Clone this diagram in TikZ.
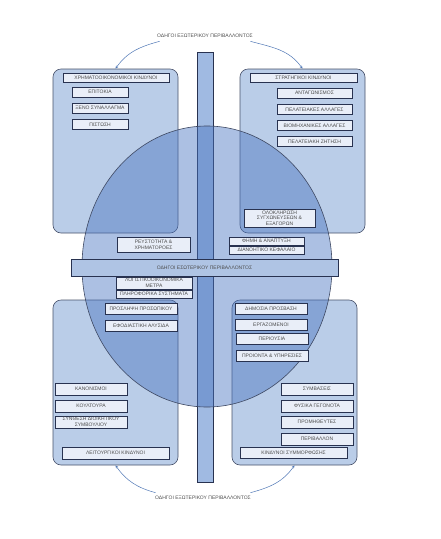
\documentclass[tikz,border=0pt]{standalone}
\usepackage{fontspec}
\setmainfont{Liberation Sans}
\usetikzlibrary{arrows.meta}

\definecolor{panelblue}{RGB}{186,205,232}
\definecolor{ovalblue}{RGB}{72,116,192}
\definecolor{barblue}{RGB}{160,186,226}
\definecolor{boxfill}{RGB}{233,238,248}
\definecolor{edgeblue}{RGB}{40,50,80}
\definecolor{arcblue}{RGB}{80,120,182}

\tikzset{
  panel/.style={draw=edgeblue!85, fill=panelblue, rounded corners=8pt, line width=0.6pt, inner sep=0pt},
  riskbox/.style={draw=edgeblue, fill=boxfill, line width=1pt, inner sep=0pt,
    minimum height=10, align=center, text=black!70, font=\fontsize{5}{5.6}\selectfont},
  drivertext/.style={text=black!70, font=\fontsize{5}{6}\selectfont},
  driver/.style={-{Stealth[length=3pt,width=2.6pt]}, draw=arcblue, line width=0.5pt},
}

\begin{document}
\begin{tikzpicture}[x=1pt,y=-1pt]
  \useasboundingbox (0,0) rectangle (440,539);
  % four risk quadrants
  \node[panel, minimum width=125, minimum height=164] (finq) at (115.5,151) {};
  \node[panel, minimum width=125, minimum height=164] (strq) at (302.5,151) {};
  \node[panel, minimum width=125, minimum height=165] (opq) at (115.5,382.5) {};
  \node[panel, minimum width=125, minimum height=165] (comq) at (294.5,382.5) {};
  % vertical bar and oval
  \draw[draw=edgeblue, fill=barblue, line width=0.6pt] (197,52) rectangle (213,482);
  \draw[draw=edgeblue!90, fill=ovalblue, fill opacity=0.45, line width=0.6pt]
    (207,266.5) ellipse [x radius=125, y radius=140.5];
  \node[draw=edgeblue, fill=panelblue!90!ovalblue, line width=1pt, minimum width=267, minimum height=17,
    text=black!70, font=\fontsize{5}{6}\selectfont] (intbar) at (204.5,268) {ΟΔΗΓΟΙ ΕΣΩΤΕΡΙΚΟΥ ΠΕΡΙΒΑΛΛΟΝΤΟΣ};

  % financial risks
  \node[riskbox, minimum width=106, minimum height=9] (fintitle) at (116,77.5) {ΧΡΗΜΑΤΟΟΙΚΟΝΟΜΙΚΟΙ ΚΙΝΔΥΝΟΙ};
  \node[riskbox, minimum width=56] (rates) at (100,92) {ΕΠΙΤΟΚΙΑ};
  \node[riskbox, minimum width=56] (forex) at (100,108) {ΞΕΝΟ ΣΥΝΑΛΛΑΓΜΑ};
  \node[riskbox, minimum width=56] (credit) at (100,124.5) {ΠΙΣΤΩΣΗ};
  \node[riskbox, minimum width=73, minimum height=15] (liquid) at (153.5,244.5) {ΡΕΥΣΤΟΤΗΤΑ \&\\ΧΡΗΜΑΤΟΡΟΕΣ};
  \node[riskbox, minimum width=76, minimum height=12] (accounts) at (154,283) {ΛΟΓΙΣΤΙΚΟΟΙΚΟΝΟΜΙΚΑ\\ΜΕΤΡΑ};
  \node[riskbox, minimum width=76, minimum height=8] (infosys) at (154,294) {ΠΛΗΡΟΦΟΡΙΚΑ ΣΥΣΤΗΜΑΤΑ};

  % strategic risks
  \node[riskbox, minimum width=107, minimum height=9] (strtitle) at (303.5,77.5) {ΣΤΡΑΤΗΓΙΚΟΙ ΚΙΝΔΥΝΟΙ};
  \node[riskbox, minimum width=75] (rivals) at (314.5,93) {ΑΝΤΑΓΩΝΙΣΜΟΣ};
  \node[riskbox, minimum width=75] (custchg) at (314.5,109.5) {ΠΕΛΑΤΕΙΑΚΕΣ ΑΛΛΑΓΕΣ};
  \node[riskbox, minimum width=75] (indchg) at (314.5,125.5) {ΒΙΟΜΗΧΑΝΙΚΕΣ ΑΛΛΑΓΕΣ};
  \node[riskbox, minimum width=75] (demand) at (314.5,141.5) {ΠΕΛΑΤΕΙΑΚΗ ΖΗΤΗΣΗ};
  \node[riskbox, minimum width=71, minimum height=18] (mergers) at (279.5,218) {ΟΛΟΚΛΗΡΩΣΗ\\ΣΥΓΧΩΝΕΥΣΕΩΝ \&\\ΕΞΑΓΟΡΩΝ};
  \node[riskbox, minimum width=75, minimum height=8] (growth) at (266.5,241) {ΦΗΜΗ \& ΑΝΑΠΤΥΞΗ};
  \node[riskbox, minimum width=75, minimum height=8] (ipcap) at (266.5,250) {ΔΙΑΝΟΗΤΙΚΟ ΚΕΦΑΛΑΙΟ};

  % operational risks
  \node[riskbox, minimum width=72, minimum height=11] (hiring) at (141,308.5) {ΠΡΟΣΛΗΨΗ ΠΡΟΣΩΠΙΚΟΥ};
  \node[riskbox, minimum width=72, minimum height=11] (supply) at (141,326) {ΕΦΟΔΙΑΣΤΙΚΗ ΑΛΥΣΙΔΑ};
  \node[riskbox, minimum width=72, minimum height=12] (rules) at (91,389) {ΚΑΝΟΝΙΣΜΟΙ};
  \node[riskbox, minimum width=72, minimum height=12] (culture) at (91,406) {ΚΟΥΛΤΟΥΡΑ};
  \node[riskbox, minimum width=72, minimum height=12] (board) at (91,422) {ΣΥΝΘΕΣΗ ΔΙΟΙΚΗΤΙΚΟΥ\\ΣΥΜΒΟΥΛΙΟΥ};
  \node[riskbox, minimum width=107, minimum height=12] (optitle) at (115.5,453) {ΛΕΙΤΟΥΡΓΙΚΟΙ ΚΙΝΔΥΝΟΙ};

  % compliance risks
  \node[riskbox, minimum width=72, minimum height=11] (access) at (271,308.5) {ΔΗΜΟΣΙΑ ΠΡΟΣΒΑΣΗ};
  \node[riskbox, minimum width=72, minimum height=11] (staff) at (271,325) {ΕΡΓΑΖΟΜΕΝΟΙ};
  \node[riskbox, minimum width=72, minimum height=11] (assets) at (272,339) {ΠΕΡΙΟΥΣΙΑ};
  \node[riskbox, minimum width=72, minimum height=11] (products) at (272,355.5) {ΠΡΟΙΟΝΤΑ \& ΥΠΗΡΕΣΙΕΣ};
  \node[riskbox, minimum width=72, minimum height=12] (contracts) at (317,389) {ΣΥΜΒΑΣΕΙΣ};
  \node[riskbox, minimum width=72, minimum height=12] (nature) at (317,406) {ΦΥΣΙΚΑ ΓΕΓΟΝΟΤΑ};
  \node[riskbox, minimum width=72, minimum height=12] (vendors) at (317,422) {ΠΡΟΜΗΘΕΥΤΕΣ};
  \node[riskbox, minimum width=72, minimum height=12] (environ) at (317,439) {ΠΕΡΙΒΑΛΛΟΝ};
  \node[riskbox, minimum width=107, minimum height=11] (comtitle) at (293.5,452.5) {ΚΙΝΔΥΝΟΙ ΣΥΜΜΟΡΦΩΣΗΣ};

  % external drivers
  \node[drivertext] (exttop) at (205,36) {ΟΔΗΓΟΙ ΕΞΩΤΕΡΙΚΟΥ ΠΕΡΙΒΑΛΛΟΝΤΟΣ};
  \node[drivertext] (extbot) at (203,498) {ΟΔΗΓΟΙ ΕΞΩΤΕΡΙΚΟΥ ΠΕΡΙΒΑΛΛΟΝΤΟΣ};
  \draw[driver] ([xshift=6pt]exttop.south west) to[out=195,in=55] (finq.north);
  \draw[driver] ([xshift=-6pt]exttop.south east) to[out=-15,in=125] (strq.north);
  \draw[driver] ([xshift=4pt]extbot.north west) to[out=165,in=-55] (opq.south);
  \draw[driver] ([xshift=-4pt]extbot.north east) to[out=15,in=-125] (comq.south);
\end{tikzpicture}
\end{document}
